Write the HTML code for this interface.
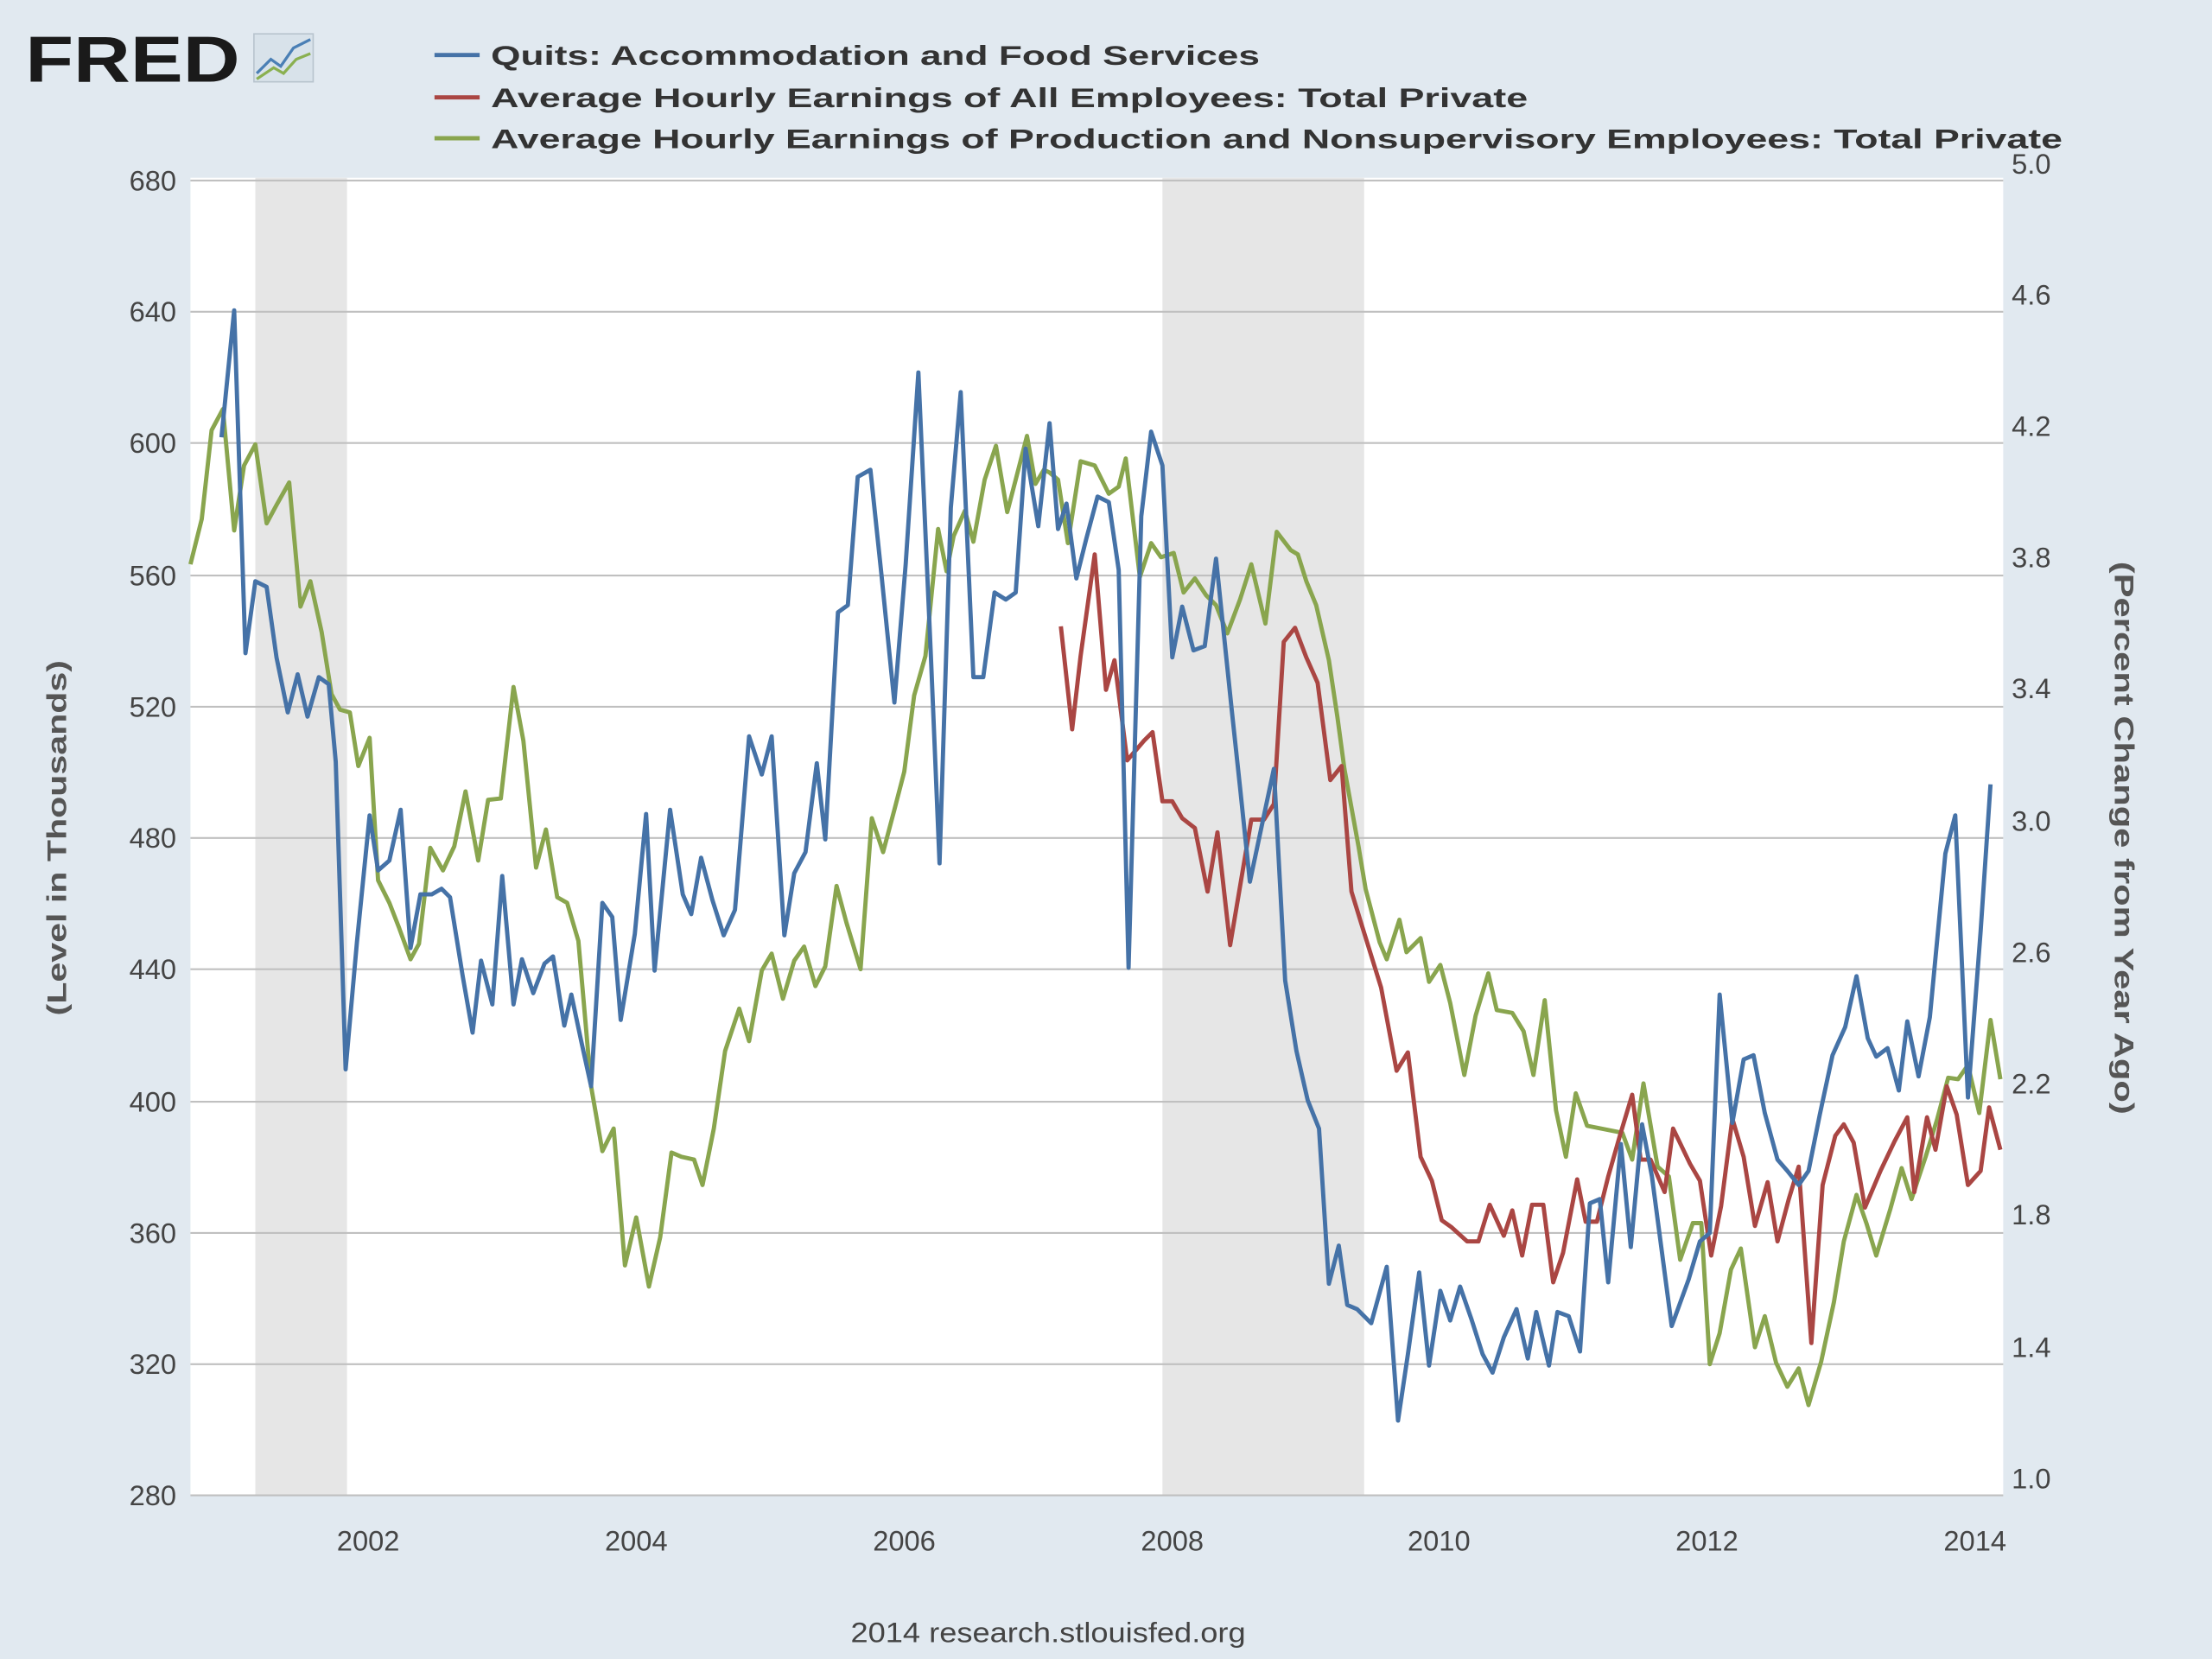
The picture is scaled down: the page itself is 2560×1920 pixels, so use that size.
<!DOCTYPE html>
<html><head><meta charset="utf-8"><style>
html,body{margin:0;padding:0;background:#e1e9f0;}
svg{display:block;}
text{font-family:"Liberation Sans",sans-serif;}
</style></head><body>
<svg width="2560" height="1920" viewBox="0 0 1568 1176" xmlns="http://www.w3.org/2000/svg">
<rect x="0" y="0" width="1568" height="1176" fill="#e1e9f0"/>
<text x="18" y="58" font-size="46" font-weight="bold" fill="#1a1a1a" textLength="152" lengthAdjust="spacingAndGlyphs">FRED</text>
<rect x="180" y="24" width="42" height="34" fill="#d8e2ea" stroke="#b8c4ce"/>
<polyline points="182,52 192,42 199,47 208,34 220,28" fill="none" stroke="#4a7fb5" stroke-width="2"/>
<polyline points="182,56 194,48 201,52 210,42 220,38" fill="none" stroke="#8ab050" stroke-width="2"/>
<g font-size="19" font-weight="bold" fill="#333">
<line x1="308" y1="39" x2="340" y2="39" stroke="#4572a7" stroke-width="3"/>
<text x="348" y="46" textLength="545" lengthAdjust="spacingAndGlyphs">Quits: Accommodation and Food Services</text>
<line x1="308" y1="69" x2="340" y2="69" stroke="#aa4643" stroke-width="3"/>
<text x="348" y="76" textLength="735" lengthAdjust="spacingAndGlyphs">Average Hourly Earnings of All Employees: Total Private</text>
<line x1="308" y1="98" x2="340" y2="98" stroke="#89a54e" stroke-width="3"/>
<text x="348" y="105" textLength="1114" lengthAdjust="spacingAndGlyphs">Average Hourly Earnings of Production and Nonsupervisory Employees: Total Private</text>
</g>
<rect x="135" y="126" width="1285" height="934" fill="#fff"/>
<rect x="181" y="126" width="65" height="934" fill="#e6e6e6"/>
<rect x="824" y="126" width="143" height="934" fill="#e6e6e6"/>
<g stroke="#c0c0c0" stroke-width="1.3">
<line x1="135" y1="128" x2="1420" y2="128"/><line x1="135" y1="221" x2="1420" y2="221"/>
<line x1="135" y1="314" x2="1420" y2="314"/><line x1="135" y1="408" x2="1420" y2="408"/>
<line x1="135" y1="501" x2="1420" y2="501"/><line x1="135" y1="594" x2="1420" y2="594"/>
<line x1="135" y1="687" x2="1420" y2="687"/><line x1="135" y1="781" x2="1420" y2="781"/>
<line x1="135" y1="874" x2="1420" y2="874"/><line x1="135" y1="967" x2="1420" y2="967"/>
<line x1="135" y1="1060" x2="1420" y2="1060"/>
</g>
<g font-size="20" fill="#444" text-anchor="end">
<text x="125" y="135">680</text><text x="125" y="228">640</text><text x="125" y="321">600</text>
<text x="125" y="415">560</text><text x="125" y="508">520</text><text x="125" y="601">480</text>
<text x="125" y="694">440</text><text x="125" y="788">400</text><text x="125" y="881">360</text>
<text x="125" y="974">320</text><text x="125" y="1067">280</text>
</g>
<g font-size="20" fill="#444">
<text x="1426" y="123">5.0</text><text x="1426" y="216">4.6</text><text x="1426" y="309">4.2</text>
<text x="1426" y="402">3.8</text><text x="1426" y="495">3.4</text><text x="1426" y="589">3.0</text>
<text x="1426" y="682">2.6</text><text x="1426" y="775">2.2</text><text x="1426" y="868">1.8</text>
<text x="1426" y="962">1.4</text><text x="1426" y="1055">1.0</text>
</g>
<g font-size="20" fill="#444" text-anchor="middle">
<text x="261" y="1099">2002</text><text x="451" y="1099">2004</text><text x="641" y="1099">2006</text>
<text x="831" y="1099">2008</text><text x="1020" y="1099">2010</text><text x="1210" y="1099">2012</text>
<text x="1400" y="1099">2014</text>
</g>
<text transform="translate(47,594) rotate(-90)" font-size="19" font-weight="bold" fill="#555" text-anchor="middle" textLength="252" lengthAdjust="spacingAndGlyphs">(Level in Thousands)</text>
<text transform="translate(1499,594) rotate(90)" font-size="19" font-weight="bold" fill="#555" text-anchor="middle" textLength="392" lengthAdjust="spacingAndGlyphs">(Percent Change from Year Ago)</text>
<text x="743" y="1164" font-size="20" fill="#444" text-anchor="middle" textLength="280" lengthAdjust="spacingAndGlyphs">2014 research.stlouisfed.org</text>
<g fill="none" stroke-width="3" stroke-linejoin="round">
<polyline stroke="#89a54e" points="135,400 143,368 150,305 158,290 166,376 173,330 181,315 189,371 196,358 205,342 213,430 220,412 228,448 235,492 241,503 248,505 254,543 262,523 268,624 276,640 283,658 291,680 297,669 305,601 314,617 322,600 330,561 339,610 346,567 355,566 364,487 371,525 380,615 387,588 395,636 402,640 410,667 419,770 427,816 435,800 443,897 451,863 460,912 468,877 476,817 483,820 492,822 498,840 506,800 514,745 524,715 531,738 540,688 547,676 555,708 563,681 570,671 578,699 585,685 593,628 600,654 610,687 618,580 626,604 634,574 641,547 648,493 656,465 665,375 671,405 676,380 684,362 690,384 698,340 706,316 714,363 720,340 728,309 734,343 740,333 744,335 750,340 757,385 766,327 776,330 786,350 793,345 798,325 808,409 816,385 823,395 832,392 839,420 847,410 855,422 862,429 870,449 879,425 887,400 897,442 905,377 915,390 920,393 926,412 933,429 942,468 948,508 953,545 963,600 968,630 978,668 983,680 992,652 997,675 1007,665 1013,696 1021,684 1028,711 1038,762 1046,720 1055,690 1061,716 1072,718 1080,731 1087,762 1095,709 1103,787 1110,820 1117,775 1125,798 1145,802 1150,803 1157,822 1165,768 1175,827 1183,834 1191,893 1200,867 1206,867 1212,967 1219,945 1227,900 1234,885 1244,955 1251,933 1259,966 1267,983 1275,970 1282,996 1291,965 1300,923 1307,880 1316,847 1323,867 1330,890 1340,857 1348,828 1355,850 1365,820 1373,794 1381,764 1388,765 1395,755 1403,789 1411,723 1418,765"/>
<polyline stroke="#aa4643" points="752,444 760,517 766,465 776,393 784,489 790,468 799,539 811,525 817,519 824,568 831,568 838,580 847,587 856,632 863,590 872,670 887,581 896,581 903,570 910,455 918,445 926,466 934,484 943,553 951,543 958,632 966,658 979,700 990,759 998,746 1007,820 1015,837 1022,865 1029,870 1040,880 1048,880 1056,854 1066,876 1072,858 1079,890 1086,854 1094,854 1101,909 1108,888 1118,836 1124,866 1132,866 1140,834 1148,806 1157,776 1163,822 1170,822 1180,845 1186,800 1198,825 1205,837 1213,890 1220,855 1228,793 1236,820 1244,869 1253,838 1260,880 1268,850 1275,827 1284,952 1292,840 1301,805 1307,797 1314,810 1322,856 1333,830 1343,809 1352,792 1357,845 1366,792 1372,815 1380,770 1387,790 1395,840 1404,830 1410,785 1418,815"/>
<polyline stroke="#4572a7" points="157,310 166,220 174,463 181,412 189,416 196,466 204,505 211,478 218,508 226,480 233,485 238,540 245,758 253,668 262,578 268,617 276,610 284,574 291,672 298,634 306,634 313,630 319,636 328,692 335,732 341,681 349,712 356,621 364,712 370,680 378,704 386,683 392,678 400,727 405,705 412,738 419,770 427,640 434,650 440,723 450,662 458,577 464,688 475,574 484,634 490,648 497,608 505,638 513,663 521,645 531,522 540,549 547,522 556,663 563,619 571,604 579,541 585,595 594,434 601,429 608,338 617,333 625,409 634,498 642,400 651,264 660,468 666,612 674,360 681,278 690,480 697,480 705,420 713,425 720,420 727,318 736,373 744,300 750,375 756,357 763,410 770,382 778,352 786,356 793,404 800,686 809,366 816,306 824,330 831,466 838,430 846,461 854,458 862,396 873,502 879,558 886,625 903,545 911,695 919,745 927,780 935,800 942,910 949,883 955,925 962,928 972,938 983,898 991,1007 998,960 1006,902 1013,968 1021,915 1028,936 1035,912 1043,935 1051,960 1058,973 1066,948 1075,928 1083,963 1089,930 1098,968 1104,930 1112,933 1120,958 1127,853 1134,850 1140,909 1149,811 1156,884 1164,797 1171,834 1185,940 1197,907 1205,880 1212,874 1219,705 1228,796 1236,751 1243,748 1251,789 1260,822 1267,830 1275,840 1282,830 1290,790 1299,748 1308,728 1316,692 1324,736 1330,749 1338,743 1346,773 1352,724 1360,763 1368,721 1379,605 1386,578 1395,778 1404,660 1411,556"/>
</g>
</svg>
</body></html>
